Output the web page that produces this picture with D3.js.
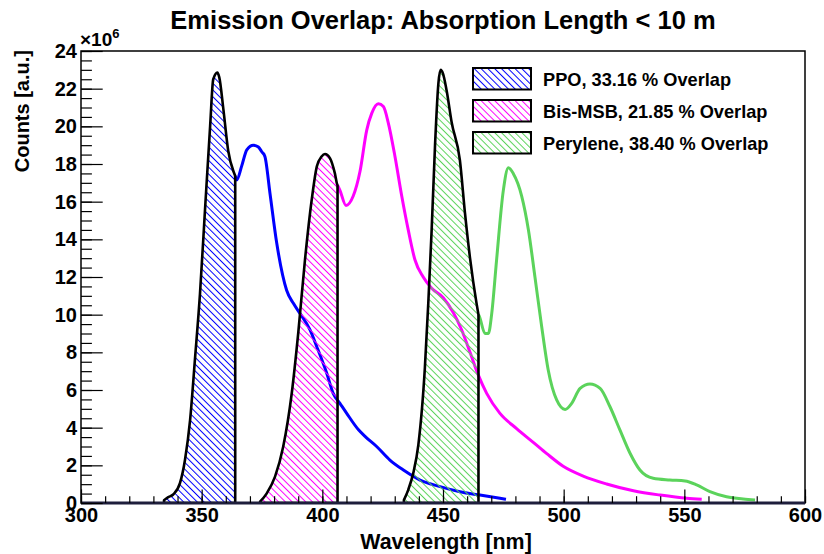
<!DOCTYPE html>
<html>
<head>
<meta charset="utf-8">
<script src="https://cdn.jsdelivr.net/npm/d3@7"></script>
<style>
  body { margin: 0; background: #fff; }
  svg { display: block; }
  text { font-family: "Liberation Sans", Arial, Helvetica, sans-serif; font-weight: bold; fill: #000; }
</style>
</head>
<body>
<svg id="chart" width="824" height="554"></svg>
<script>
// Emission spectra (wavelength in nm, counts in units of 1e6)
const ppoWavelength = [334.4, 336.0, 338.2, 341.0, 343.1, 345.2, 347.2, 349.3, 351.4, 353.5, 354.8, 356.5, 357.3, 359.0, 361.0, 363.8,
  364.5, 366.6, 368.7, 371.4, 373.5, 374.9, 376.2, 378.3, 381.1, 385.2, 388.0, 390.7, 394.9, 397.7, 401.8, 404.5, 407.3, 410.1,
  414.9, 418.0, 422.5, 428.0, 433.6, 440.5, 448.8, 457.0, 465.3, 473.6, 476.1];
const ppoCounts = [0.15, 0.3, 0.45, 1.05, 2.3, 4.4, 7.6, 11.1, 15.6, 20.0, 22.5, 22.85, 22.6, 20.9, 18.7, 17.4,
  17.15, 17.9, 18.75, 19.0, 18.9, 18.65, 18.4, 16.45, 13.8, 11.3, 10.6, 10.07, 9.19, 8.3, 6.9, 5.82, 5.29, 4.76,
  3.9, 3.5, 3.0, 2.28, 1.75, 1.22, 0.87, 0.6, 0.42, 0.25, 0.2];

const bisWavelength = [374.2, 376.9, 380.4, 383.8, 387.3, 390.0, 392.8, 395.6, 397.7, 399.7, 401.1, 403.2, 405.2, 406.2,
  407.3, 409.8, 412.8, 415.6, 418.4, 420.5, 423.2, 425.3, 427.3, 430.1, 432.9, 435.6, 438.4, 441.8, 445.3, 450.1, 454.3,
  457.7, 461.2, 464.6, 468.1, 473.6, 480.5, 487.4, 493.0, 499.8, 508.1, 517.8, 528.9, 540.0, 551.0, 557.2];
const bisCounts = [0.07, 0.5, 1.4, 3.0, 5.8, 9.0, 12.9, 16.1, 17.86, 18.4, 18.53, 18.3, 17.5, 16.9,
  16.6, 15.8, 16.3, 17.6, 19.8, 20.7, 21.2, 21.05, 20.2, 18.4, 16.3, 14.5, 12.9, 12.0, 11.4, 10.9, 10.1,
  9.2, 8.0, 6.8, 5.82, 4.76, 3.95, 3.22, 2.62, 1.95, 1.43, 1.01, 0.65, 0.42, 0.25, 0.2];

const peryleneWavelength = [433.8, 435.6, 437.7, 439.8, 442.5, 443.9, 445.3, 446.7, 448.1, 449.0, 450.0, 451.5, 453.6,
  457.0, 459.1, 461.2, 463.9, 464.7, 465.1, 467.4, 468.8, 470.2, 472.2, 475.0, 477.1, 479.1, 482.6, 485.4, 488.1, 490.9,
  493.6, 497.1, 500.6, 503.3, 506.8, 510.9, 515.1, 519.2, 523.3, 527.5, 531.6, 537.1, 544.0, 550.3, 555.1, 560.6, 567.5,
  574.4, 579.3];
const peryleneCounts = [0.16, 0.7, 1.6, 3.1, 7.2, 10.6, 14.5, 19.0, 22.3, 23.0, 22.8, 21.9, 20.2,
  18.2, 15.4, 13.0, 10.6, 10.0, 9.9, 9.0, 9.0, 10.07, 12.9, 16.6, 17.8, 17.5, 16.3, 14.5, 12.0, 9.36,
  7.06, 5.47, 4.97, 5.29, 6.09, 6.32, 6.09, 5.11, 3.88, 2.64, 1.75, 1.31, 1.22, 1.17, 0.96, 0.6, 0.33,
  0.21, 0.16];

// Upper wavelength edge of each absorbed (overlap) region, nm
const overlapCut = [363.9, 406.3, 464.7];
const overlapPercent = ["33.16", "21.85", "38.40"];
const dyeNames = ["PPO", "Bis-MSB", "Perylene"];
const dyeColors = ["#0000ff", "#ff00ff", "#5bd35b"];

const xTickValues = [300, 350, 400, 450, 500, 550, 600];
const yTickValues = [0, 2, 4, 6, 8, 10, 12, 14, 16, 18, 20, 22, 24];

const titleText = "Emission Overlap: Absorption Length < 10 m";
const xTitle = "Wavelength [nm]";
const yTitle = "Counts [a.u.]";

// ---------------------------------------------------------------
const svg = d3.select("#chart");
const X0 = 81, X1 = 805, Y0 = 503, Y1 = 51;
const x = d3.scaleLinear().domain([300, 600]).range([X0, X1]);
const y = d3.scaleLinear().domain([0, 24]).range([Y0, Y1]);

const spectra = [
  { wl: ppoWavelength, c: ppoCounts },
  { wl: bisWavelength, c: bisCounts },
  { wl: peryleneWavelength, c: peryleneCounts }
].map((s, i) => ({
  name: dyeNames[i], color: dyeColors[i], cut: overlapCut[i], pct: overlapPercent[i],
  pts: s.wl.map((w, j) => [w, s.c[j]])
}));

function valueAt(pts, w) {
  for (let j = 1; j < pts.length; j++) {
    if (pts[j][0] >= w) {
      const [a, va] = pts[j - 1], [b, vb] = pts[j];
      return va + (vb - va) * (w - a) / (b - a);
    }
  }
  return pts[pts.length - 1][1];
}

// hatch patterns
const defs = svg.append("defs");
spectra.forEach((s, i) => {
  const p = defs.append("pattern")
    .attr("id", "hatch" + i)
    .attr("patternUnits", "userSpaceOnUse")
    .attr("width", 4.8).attr("height", 4.8)
    .attr("patternTransform", "rotate(-45)");
  p.append("rect").attr("x", 0).attr("y", 0).attr("width", 1).attr("height", 4.8).attr("fill", s.color);
});

const clip = defs.append("clipPath").attr("id", "frameClip");
clip.append("rect").attr("x", X0).attr("y", Y1).attr("width", X1 - X0).attr("height", Y0 - Y1);

const plot = svg.append("g").attr("clip-path", "url(#frameClip)");

const line = d3.line().x(d => x(d[0])).y(d => y(d[1])).curve(d3.curveMonotoneX);
const area = d3.area().x(d => x(d[0])).y0(y(0)).y1(d => y(d[1])).curve(d3.curveMonotoneX);

// emission curves beyond the overlap cut
spectra.forEach(s => {
  const cv = valueAt(s.pts, s.cut);
  const tail = [[s.cut, cv]].concat(s.pts.filter(p => p[0] > s.cut));
  plot.append("path")
    .attr("d", line(tail))
    .attr("fill", "none")
    .attr("stroke", s.color)
    .attr("stroke-width", 3)
    .attr("stroke-linejoin", "round");
});

// hatched overlap regions
spectra.forEach((s, i) => {
  const cv = valueAt(s.pts, s.cut);
  const head = s.pts.filter(p => p[0] < s.cut).concat([[s.cut, cv]]);
  plot.append("path")
    .attr("d", area(head))
    .attr("fill", `url(#hatch${i})`)
    .attr("stroke", "#000")
    .attr("stroke-width", 2.6)
    .attr("stroke-linejoin", "round");
});

// frame
svg.append("rect").attr("x", X0).attr("y", Y1).attr("width", X1 - X0).attr("height", Y0 - Y1)
  .attr("fill", "none").attr("stroke", "#000").attr("stroke-width", 1.5);
svg.append("line").attr("x1", X0).attr("x2", X1).attr("y1", Y0).attr("y2", Y0)
  .attr("stroke", "#1e1e3c").attr("stroke-width", 3);

// axes
const xMajor = d3.axisBottom(x).tickValues(xTickValues).tickSize(-13.6).tickPadding(5).tickFormat(d3.format("d"));
const xMinor = d3.axisBottom(x).tickValues(d3.range(300, 601, 10)).tickSize(-6.8).tickFormat("");
const yMajor = d3.axisLeft(y).tickValues(yTickValues).tickSize(-21.7).tickPadding(4).tickFormat(d3.format("d"));
const yMinor = d3.axisLeft(y).tickValues(d3.range(0, 24.01, 0.5)).tickSize(-10.9).tickFormat("");

function styleAxis(g) {
  g.select(".domain").remove();
  g.selectAll(".tick line").attr("stroke", "#000").attr("stroke-width", 1.2);
  g.selectAll("text").attr("font-size", 20).attr("font-family", null).attr("fill", "#000");
}
svg.append("g").attr("transform", `translate(0,${Y0})`).call(xMinor).call(styleAxis);
svg.append("g").attr("transform", `translate(0,${Y0})`).call(xMajor).call(styleAxis);
svg.append("g").attr("transform", `translate(${X0},0)`).call(yMinor).call(styleAxis);
svg.append("g").attr("transform", `translate(${X0},0)`).call(yMajor).call(styleAxis);

// exponent marker
const ex = svg.append("text").attr("x", 80).attr("y", 46).attr("font-size", 19).attr("font-weight", "normal");
ex.append("tspan").text("\u00d710");
ex.append("tspan").attr("dy", -8).attr("font-size", 13).text("6");

// titles
svg.append("text").attr("x", 443).attr("y", 29).attr("text-anchor", "middle")
  .attr("font-size", 25.5).text(titleText);
svg.append("text").attr("x", 446).attr("y", 549).attr("text-anchor", "middle")
  .attr("font-size", 21.4).text(xTitle);
svg.append("text").attr("transform", "translate(29,50) rotate(-90)").attr("text-anchor", "end")
  .attr("font-size", 20).text(yTitle);

// legend
const leg = svg.append("g").attr("transform", "translate(473,68)");
spectra.forEach((s, i) => {
  const g = leg.append("g").attr("transform", `translate(0,${i * 32})`);
  g.append("rect").attr("x", 0).attr("y", 0).attr("width", 58).attr("height", 21.5)
    .attr("fill", `url(#hatch${i})`).attr("stroke", "#000").attr("stroke-width", 2);
  g.append("text").attr("x", 70).attr("y", 11).attr("dy", "0.36em").attr("font-size", 18.2)
    .text(`${s.name}, ${s.pct} % Overlap`);
});
</script>
</body>
</html>
